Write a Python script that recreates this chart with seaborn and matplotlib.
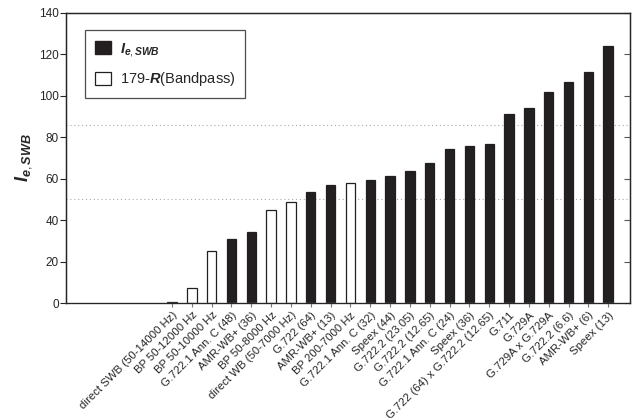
import numpy as np
import pandas as pd
import matplotlib
matplotlib.use('Agg')
import matplotlib.pyplot as plt
from matplotlib.patches import Patch
import seaborn as sns

codecs = ['direct SWB (50-14000 Hz)', 'BP 50-12000 Hz', 'BP 50-10000 Hz',
          'G.722.1 Ann. C (48)', 'AMR-WB+ (36)', 'BP 50-8000 Hz',
          'direct WB (50-7000 Hz)', 'G.722 (64)', 'AMR-WB+ (13)', 'BP 200-7000 Hz',
          'G.722.1 Ann. C (32)', 'Speex (44)', 'G.722.2 (23.05)', 'G.722.2 (12.65)',
          'G.722.1 Ann. C (24)', 'Speex (36)', 'G.722 (64) x G.722.2 (12.65)',
          'G.711', 'G.729A', 'G.729A x G.729A', 'G.722.2 (6.6)', 'AMR-WB+ (6)',
          'Speex (13)']
ie_values = [0.5, 7.4, 25.1, 31.1, 34.4, 44.9, 48.8, 53.4, 56.8, 57.8, 59.4, 61.3,
             63.7, 67.7, 74.5, 76.0, 76.8, 91.1, 94.0, 101.9, 106.9, 111.5, 124.1]
kind = ['ie', 'bp', 'bp', 'ie', 'ie', 'bp', 'bp', 'ie', 'ie', 'bp', 'ie', 'ie',
        'ie', 'ie', 'ie', 'ie', 'ie', 'ie', 'ie', 'ie', 'ie', 'ie', 'ie']
ref_lines = [86.0, 50.2]

sns.set_style('white')
plt.rcParams['font.family'] = ['Liberation Sans', 'DejaVu Sans']
plt.rcParams['mathtext.fontset'] = 'custom'
plt.rcParams['mathtext.it'] = 'Liberation Sans:bold:italic'
plt.rcParams['mathtext.rm'] = 'Liberation Sans'
plt.rcParams['mathtext.bf'] = 'Liberation Sans:bold'

df = pd.DataFrame({'codec': codecs, 'value': ie_values, 'kind': kind})

fig = plt.figure(figsize=(6.38, 4.18), dpi=100)
ax = fig.add_axes([0.1034, 0.275, 0.884, 0.694])

dark = '#231f20'
sns.barplot(data=df, x='codec', y='value', hue='kind', palette={'ie': dark, 'bp': 'white'},
            dodge=False, width=0.47, edgecolor=dark, linewidth=0.9, legend=False, ax=ax)

for y in ref_lines:
    ax.axhline(y, color='#aaaaaa', linestyle=(0, (1, 2.5)), linewidth=0.8, zorder=0)

ax.set_xlim(-5.35, 23.1)
ax.set_ylim(0, 140)
ax.set_yticks(np.arange(0, 141, 20))
ax.set_xlabel('')
ax.set_ylabel('$I_{e,SWB}$', fontsize=13, labelpad=4)
ax.set_xticks(range(len(codecs)))
ax.set_xticklabels(codecs, rotation=45, ha='right', rotation_mode='anchor', fontsize=8.2)
ax.tick_params(axis='y', labelsize=8.5, direction='out', length=4, width=0.8, left=True, pad=1)
ax.tick_params(axis='x', direction='out', length=3, width=0.8, bottom=True, pad=2, color='#777777')
for s in ax.spines.values():
    s.set_color('#222222')
    s.set_linewidth(1.0)
ax.spines['bottom'].set_color('#777777')

ax2 = ax.twinx()
ax2.set_ylim(0, 140)
ax2.set_yticks(np.arange(0, 141, 20))
ax2.tick_params(axis='y', direction='in', length=4, width=0.8, labelright=False, color='#555555')

handles = [Patch(facecolor=dark, edgecolor=dark, label='$I_{e,SWB}$'),
           Patch(facecolor='white', edgecolor=dark, linewidth=0.9, label='179-$R$(Bandpass)')]
leg = ax.legend(handles=handles, loc='upper left', bbox_to_anchor=(0.02, 0.965), fontsize=10.5,
                frameon=True, fancybox=False, edgecolor='#222222', borderpad=0.7,
                labelspacing=0.8, handlelength=1.1, handleheight=1.0, handletextpad=0.6)
leg.get_frame().set_linewidth(0.9)

fig.savefig('out.png', dpi=100)
